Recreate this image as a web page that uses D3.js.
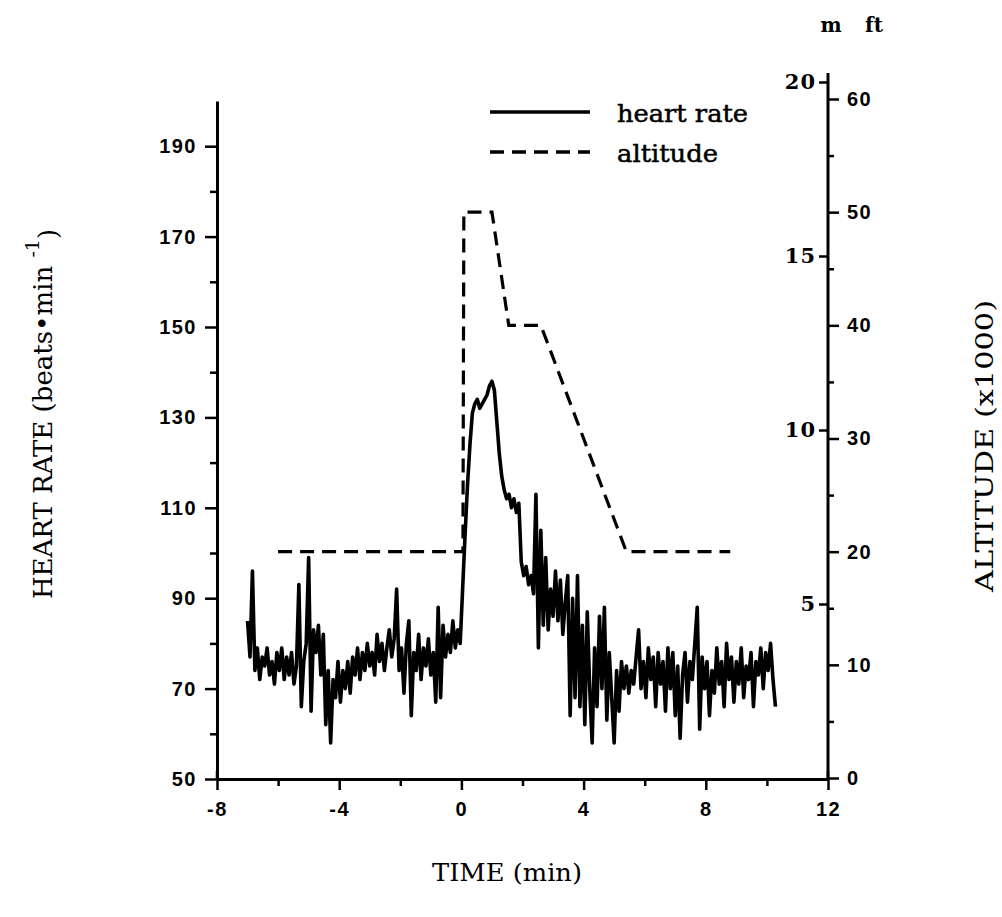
<!DOCTYPE html>
<html>
<head>
<meta charset="utf-8">
<script src="https://cdn.jsdelivr.net/npm/d3@7"></script>
<style>
  html, body { margin: 0; padding: 0; background: #fff; }
  svg { display: block; }
  .tick text { font-family: "Liberation Sans", Arial, sans-serif; font-weight: bold; font-size: 20px; letter-spacing: 1.5px; fill: #000; }
  .serif { font-family: "DejaVu Serif", "Liberation Serif", serif; fill: #000; }
</style>
</head>
<body>
<svg id="chart" width="1002" height="917"></svg>
<script>
// ---------------- data ----------------
const xTicks = [-8, -4, 0, 4, 8, 12];
const xMinorTicks = [-6, -2, 2, 6, 10];
const hrTicks = [50, 70, 90, 110, 130, 150, 170, 190];
const hrMinorTicks = [60, 80, 100, 120, 140, 160, 180];
const ftTicks = [0, 10, 20, 30, 40, 50, 60];
const ftMinorTicks = [5, 15, 25, 35, 45, 55];
const mTicks = [5, 10, 15, 20];

// altitude profile (time min, altitude ft x1000)
const altTime = [-6, 0.05, 0.08, 1.0, 1.55, 2.6, 5.4, 8.8];
const altFt   = [20, 20, 50, 50, 40, 40, 20, 20];

// heart rate trace, sampled every 0.08 min starting at -7 min
const hrStart = -7;
const hrStep = 0.08;
const hrValues = [
  85, 77, 96, 74, 79, 72, 77, 75, 79, 73, 76, 71, 78,
  74, 79, 72, 77, 73, 78, 71, 75, 93, 66, 76, 80,
  99, 65, 83, 78, 84, 73, 82, 62, 74, 58, 72, 68,
  76, 67, 74, 70, 76, 69, 77, 73, 79, 72, 78, 74, 80,
  75, 78, 73, 82, 76, 80, 74, 79, 83, 77, 81, 92, 74,
  79, 69, 80, 85, 64, 78, 74, 82, 72, 79, 75, 81,
  73, 78, 67, 88, 68, 84, 77, 82, 78, 85, 79, 83, 80,
  92, 104, 115, 124, 131, 133, 134, 132, 133, 134, 135, 137,
  138, 136, 129, 122, 117, 114, 112, 113, 110, 112, 109, 111,
  98, 95, 97, 93, 95, 91, 113, 79, 105, 84, 99, 83, 92,
  86, 96, 85, 94, 82, 89, 95, 64, 90, 68, 95, 66, 84,
  62, 87, 70, 58, 79, 66, 86, 70, 88, 63, 78, 68,
  58, 74, 65, 76, 70, 75, 69, 74, 71, 77, 83, 70, 76,
  68, 79, 72, 77, 66, 78, 71, 76, 65, 79, 70, 78,
  64, 75, 59, 73, 78, 67, 76, 72, 80, 88, 61, 77, 70,
  76, 64, 74, 69, 79, 71, 76, 66, 80, 72, 77, 67,
  76, 71, 79, 68, 75, 72, 78, 66, 76, 73, 79, 70, 78,
  74, 80, 72, 66
];

// ---------------- drawing ----------------
const svg = d3.select("#chart");

const x = d3.scaleLinear().domain([-8, 12]).range([217, 828]);
const yHR = d3.scaleLinear().domain([50, 200]).range([779, 101]);
const yFt = d3.scaleLinear().domain([0, 60]).range([778, 99]);
const yM = d3.scaleLinear().domain([0, 20]).range([778, 82]);

const axisStroke = 3;

function styleAxis(g) {
  g.selectAll("path.domain").attr("stroke", "#000").attr("stroke-width", axisStroke);
  g.selectAll(".tick line").attr("stroke", "#000").attr("stroke-width", 2.5);
}

// bottom axis
const gx = svg.append("g").attr("transform", `translate(0,${yHR(50)})`)
  .call(d3.axisBottom(x).tickValues(xTicks).tickSize(11).tickSizeOuter(0).tickPadding(12)
    .tickFormat(d3.format("d")));
styleAxis(gx);
gx.selectAll(".tick text").text(d => String(d).replace("\u2212", "-"));
const gxm = svg.append("g").attr("transform", `translate(0,${yHR(50)})`)
  .call(d3.axisBottom(x).tickValues(xMinorTicks).tickSize(7).tickFormat(""));
gxm.select("path.domain").remove();
styleAxis(gxm);
// small upward ticks at ends
svg.append("line").attr("x1", x(-8)).attr("x2", x(-8)).attr("y1", yHR(50) - 8).attr("y2", yHR(50))
  .attr("stroke", "#000").attr("stroke-width", 2.5);
svg.append("line").attr("x1", x(12)).attr("x2", x(12)).attr("y1", yHR(50) - 8).attr("y2", yHR(50))
  .attr("stroke", "#000").attr("stroke-width", 2.5);

// left axis
const gy = svg.append("g").attr("transform", `translate(${x(-8)},0)`)
  .call(d3.axisLeft(yHR).tickValues(hrTicks).tickSize(12).tickSizeOuter(0).tickPadding(8));
styleAxis(gy);
const gym = svg.append("g").attr("transform", `translate(${x(-8)},0)`)
  .call(d3.axisLeft(yHR).tickValues(hrMinorTicks).tickSize(7).tickFormat(""));
gym.select("path.domain").remove();
styleAxis(gym);

// right axis: feet (ticks to the right)
const gft = svg.append("g").attr("transform", `translate(${x(12)},0)`)
  .call(d3.axisRight(yFt).tickValues(ftTicks).tickSize(11).tickSizeOuter(0).tickPadding(8));
styleAxis(gft);
gft.select("path.domain").remove();
const gftm = svg.append("g").attr("transform", `translate(${x(12)},0)`)
  .call(d3.axisRight(yFt).tickValues(ftMinorTicks).tickSize(6).tickFormat(""));
gftm.select("path.domain").remove();
styleAxis(gftm);
// right axis line
svg.append("line").attr("x1", x(12)).attr("x2", x(12))
  .attr("y1", yHR(50)).attr("y2", yM(20) - 9)
  .attr("stroke", "#000").attr("stroke-width", axisStroke);

// right axis: metres (ticks to the left)
const gm = svg.append("g").attr("transform", `translate(${x(12)},0)`)
  .call(d3.axisLeft(yM).tickValues(mTicks).tickSize(9).tickPadding(3));
gm.select("path.domain").remove();
styleAxis(gm);
gm.selectAll(".tick text").attr("class", "serif")
  .style("font-family", '"DejaVu Serif", "Liberation Serif", serif')
  .style("font-size", "21px").style("font-weight", "bold").style("letter-spacing", "1px");

// unit headers
svg.append("text").attr("class", "serif").attr("x", x(12) + 3).attr("y", 32)
  .attr("text-anchor", "middle").style("font-size", "20px").style("font-weight", "bold").text("m");
svg.append("text").attr("class", "serif").attr("x", x(12) + 46).attr("y", 32)
  .attr("text-anchor", "middle").style("font-size", "20px").style("font-weight", "bold").text("ft");

// altitude dashed line
const altData = altTime.map((t, i) => ({ t, v: altFt[i] }));
svg.append("path").datum(altData)
  .attr("fill", "none").attr("stroke", "#000").attr("stroke-width", 3.2)
  .attr("stroke-dasharray", "14,8")
  .attr("d", d3.line().x(d => x(d.t)).y(d => yFt(d.v)));

// heart rate trace
const hrData = hrValues.map((v, i) => ({ t: hrStart + i * hrStep, v }));
svg.append("path").datum(hrData)
  .attr("fill", "none").attr("stroke", "#000").attr("stroke-width", 3.6)
  .attr("stroke-linejoin", "round")
  .attr("d", d3.line().x(d => x(d.t)).y(d => yHR(d.v)));

// legend
const lg = svg.append("g");
lg.append("line").attr("x1", 490).attr("x2", 590).attr("y1", 112).attr("y2", 112)
  .attr("stroke", "#000").attr("stroke-width", 3.5);
lg.append("line").attr("x1", 490).attr("x2", 590).attr("y1", 152).attr("y2", 152)
  .attr("stroke", "#000").attr("stroke-width", 3.5).attr("stroke-dasharray", "14,8");
lg.append("text").attr("class", "serif").attr("x", 617).attr("y", 122)
  .attr("textLength", 131).attr("lengthAdjust", "spacingAndGlyphs")
  .attr("stroke", "#000").attr("stroke-width", 0.5)
  .style("font-size", "24px").text("heart rate");
lg.append("text").attr("class", "serif").attr("x", 617).attr("y", 162)
  .attr("textLength", 101).attr("lengthAdjust", "spacingAndGlyphs")
  .attr("stroke", "#000").attr("stroke-width", 0.5)
  .style("font-size", "24px").text("altitude");

// axis titles
svg.append("text").attr("class", "serif").attr("x", 507).attr("y", 881)
  .attr("text-anchor", "middle").attr("textLength", 150).attr("lengthAdjust", "spacingAndGlyphs")
  .style("font-size", "25px").text("TIME (min)");

const yt = svg.append("text").attr("class", "serif")
  .attr("transform", "translate(52,414) rotate(-90)")
  .attr("text-anchor", "middle").style("font-size", "26px");
yt.append("tspan").text("HEART RATE (beats\u2022min ");
yt.append("tspan").attr("dy", "-0.7em").style("font-size", "19px").text("-1");
yt.append("tspan").attr("dy", "0.7em").text(")");

svg.append("text").attr("class", "serif")
  .attr("transform", "translate(993,446) rotate(-90)")
  .attr("text-anchor", "middle").attr("textLength", 292).attr("lengthAdjust", "spacingAndGlyphs")
  .style("font-size", "25px").text("ALTITUDE (x1000)");
</script>
</body>
</html>
